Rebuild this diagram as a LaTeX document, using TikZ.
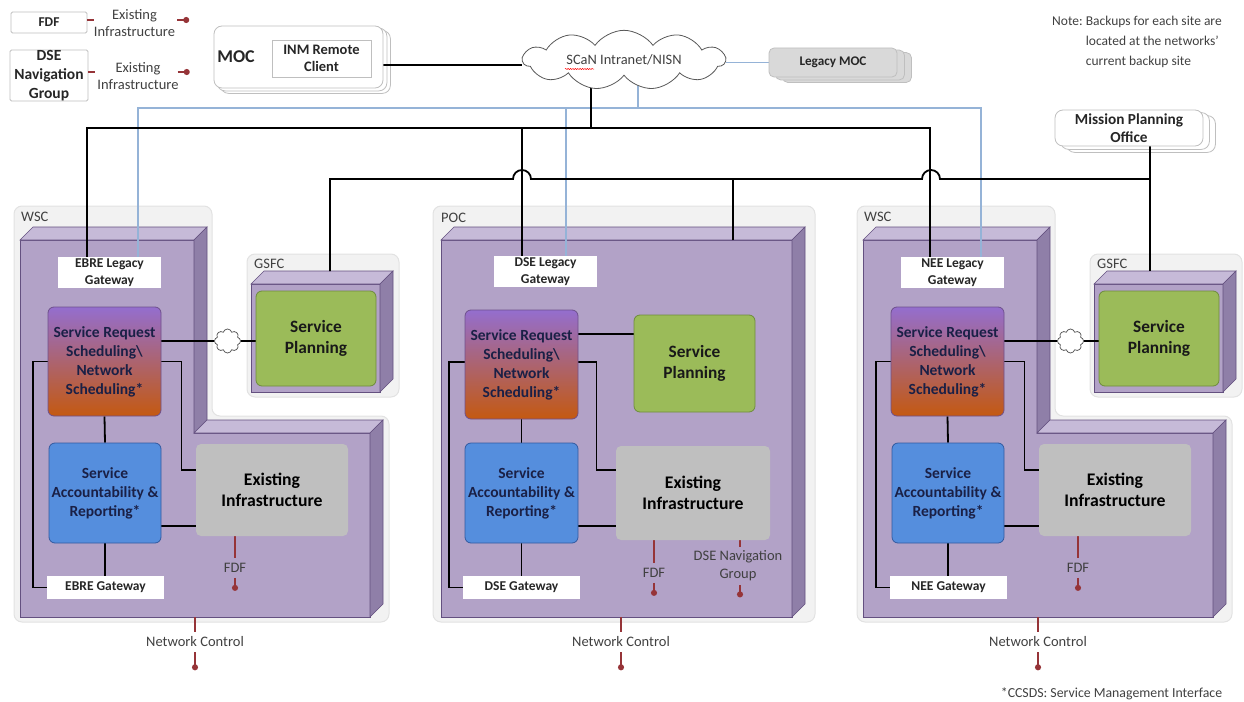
\documentclass[tikz,border=0pt]{standalone}
\usepackage{fontspec}
\setmainfont{Carlito}
\usetikzlibrary{shapes.symbols,arrows.meta,calc,decorations.pathmorphing}
\newcommand{\fsz}[2]{\fontsize{#1}{#2}\selectfont}
\definecolor{dred}{RGB}{150,52,56}
\definecolor{lineblue}{RGB}{149,179,215}
\definecolor{txtgray}{RGB}{64,64,64}
\definecolor{navytxt}{RGB}{26,32,70}
\definecolor{cFront}{RGB}{178,162,199}
\definecolor{cTop}{RGB}{198,186,216}
\definecolor{cSide}{RGB}{143,127,168}
\definecolor{cEdge}{RGB}{100,80,128}
\definecolor{contfill}{RGB}{242,242,242}
\definecolor{contedge}{RGB}{226,226,226}
\definecolor{srstop}{RGB}{148,110,206}
\definecolor{srsbot}{RGB}{196,89,17}
\definecolor{srsedge}{RGB}{110,80,140}
\definecolor{sarfill}{RGB}{85,142,221}
\definecolor{saredge}{RGB}{50,90,160}
\definecolor{spfill}{RGB}{155,187,89}
\definecolor{spedge}{RGB}{110,140,60}
\definecolor{eifill}{RGB}{191,191,191}
\definecolor{boxedge}{RGB}{191,191,191}
\definecolor{lmocfill}{RGB}{217,217,217}
\pgfdeclarelayer{back}
\pgfdeclarelayer{lines}
\pgfsetlayers{back,lines,main}
\tikzset{
  conn/.style={line width=1.8pt, draw=black},
  bconn/.style={line width=1.4pt, draw=lineblue},
  redl/.style={line width=1.8pt, draw=dred},
  reddot/.style={line width=1.8pt, draw=dred, -{Circle[length=6pt,width=6pt]}},
  lbl/.style={font=\fsz{14.5}{17.5}, text=txtgray, inner sep=0pt},
  redlbl/.style={font=\fsz{14.5}{18}, text=txtgray, inner xsep=0pt, inner ysep=5pt, align=center},
  gwbox/.style={fill=white, font=\bfseries\fsz{13.5}{16.5}, text=black!85, align=center, inner sep=0pt},
  srsbox/.style={rounded corners=6pt, draw=srsedge, line width=0.8pt, top color=srstop, bottom color=srsbot, font=\bfseries\fsz{15.5}{19}, text=navytxt, align=center, inner sep=0pt},
  sarbox/.style={rounded corners=6pt, draw=saredge, line width=0.8pt, fill=sarfill, font=\bfseries\fsz{15.5}{19}, text=navytxt, align=center, inner sep=0pt},
  eibox/.style={rounded corners=5pt, fill=eifill, font=\bfseries\fsz{17.7}{21}, text=black, align=center, inner sep=0pt},
  spbox/.style={rounded corners=6pt, draw=spedge, line width=0.8pt, fill=spfill, font=\bfseries\fsz{17.3}{21}, text=black!90, align=center, inner sep=0pt},
  smallcloud/.style={cloud, cloud puffs=8, draw=black!70, fill=white, line width=0.7pt, minimum width=26pt, minimum height=24pt, inner sep=0pt},
  wscont/.style={fill=contfill, draw=contedge, line width=1pt, rounded corners=8pt},
  pf/.style={fill=cFront, draw=cEdge, line width=0.6pt},
  pt/.style={fill=cTop, draw=cEdge, line width=0.6pt},
  ps/.style={fill=cSide, draw=cEdge, line width=0.6pt},
  stackbox/.style={draw=boxedge, fill=white, rounded corners=8pt, line width=0.8pt},
  lmocbox/.style={draw=boxedge, fill=lmocfill, rounded corners=5pt, line width=0.8pt},
  legbox/.style={draw=boxedge, fill=white, rounded corners=1.5pt, line width=0.8pt, align=center, inner sep=0pt, text=black!85},
  legtxt/.style={font=\fsz{14.5}{17.7}, text=txtgray, align=center, inner sep=0pt}
}
\newcommand{\WSCsite}[2]{%
  \begin{pgfonlayer}{back}
    \draw[wscont] (14,206) -- (212,206) -- (212,416) -- (389,416) -- (389,622) -- (14,622) -- cycle;
    \draw[wscont] (247,254) rectangle (399,397);
    \draw[pf] (20,240) -- (194,240) -- (194,433) -- (370,433) -- (370,617) -- (20,617) -- cycle;
    \draw[pt] (20,240) -- (33,227) -- (207,227) -- (194,240) -- cycle;
    \draw[ps] (194,240) -- (207,227) -- (207,420) -- (194,433) -- cycle;
    \draw[pt] (194,433) -- (207,420) -- (383,420) -- (370,433) -- cycle;
    \draw[ps] (370,433) -- (383,420) -- (383,604) -- (370,617) -- cycle;
    \draw[pf] (251,284) rectangle (380,392);
    \draw[pt] (251,284) -- (264,271) -- (393,271) -- (380,284) -- cycle;
    \draw[ps] (380,284) -- (393,271) -- (393,379) -- (380,392) -- cycle;
  \end{pgfonlayer}
  \node[lbl, anchor=west] (#1site) at (21,217) {WSC};
  \node[lbl, anchor=west] (#1gsfc) at (254,264) {GSFC};
  \node[gwbox, minimum width=103pt, minimum height=31pt] (#1lg) at (109.5,272.5) {#2 Legacy\\Gateway};
  \node[srsbox, minimum width=113pt, minimum height=109pt] (#1srs) at (104.5,361.5) {Service Request\\Scheduling\textbackslash\\Network\\Scheduling*};
  \node[sarbox, minimum width=112pt, minimum height=100pt] (#1sar) at (105,493) {Service\\Accountability \&\\Reporting*};
  \node[gwbox, minimum width=117pt, minimum height=23pt] (#1gw) at (105.5,587.5) {#2 Gateway};
  \node[eibox, minimum width=152pt, minimum height=92pt] (#1ei) at (272,490) {Existing\\Infrastructure};
  \node[spbox, minimum width=120pt, minimum height=95pt] (#1sp) at (316,338.5) {Service\\Planning};
  \node[smallcloud] (#1sc) at (227.5,341) {};
  \node[redlbl] (#1fdf) at (235,568) {FDF};
  \node[redlbl] (#1nc) at (195,642) {Network Control};
  \coordinate (#1ncstart) at (195,617);
  \coordinate (#1lgblack) at ($(#1lg.north west)+(29,0)$);
  \coordinate (#1lgblue) at ($(#1lg.north west)+(80,0)$);
  \begin{pgfonlayer}{lines}
    \draw[conn] (#1srs.south) -- (#1sar.north);
    \draw[conn] (#1sar.south) -- (#1sar.south |- #1gw.north);
    \draw[conn] (#1srs.west) -- ++(-15,0) |- (#1gw.west);
    \draw[conn] (#1srs.east) -- ++(20,0) |- ($(#1ei.west)+(0,-20)$);
    \draw[conn] ($(#1sar.east)+(0,33)$) coordinate (#1t1) -- (#1t1 -| #1ei.west);
    \draw[conn] (#1srs.east |- #1sc.west) -- (#1sc.west);
    \draw[conn] (#1sc.east) -- (#1sc.east -| #1sp.west);
    \draw[redl] (#1ei.south -| #1fdf) -- (#1fdf.north);
    \draw[reddot] (#1fdf.south) -- ++(0,13);
    \draw[redl] (#1ncstart) -- (#1nc.north);
    \draw[reddot] (#1nc.south) -- ++(0,18);
  \end{pgfonlayer}
}
\begin{document}
\begin{tikzpicture}[x=1pt,y=-1pt]
\useasboundingbox (0,0) rectangle (1244,701);

% ---------------- legend ----------------
\node[legbox, minimum width=76pt, minimum height=21pt, font=\bfseries\fsz{13.5}{16}] (fdfleg) at (49,22.5) {FDF};
\node[legtxt] (leg1) at (134.5,23) {Existing\\Infrastructure};
\node[legbox, minimum width=78pt, minimum height=51pt, font=\bfseries\fsz{15.5}{19}] (dseleg) at (49,75.5) {DSE\\Navigation\\Group};
\node[legtxt] (leg2) at (138,76) {Existing\\Infrastructure};
\draw[redl] ($(fdfleg.east)+(0,-2.5)$) -- ++(7,0);
\draw[reddot] ($(leg1.east |- fdfleg.east)+(2,-2.5)$) -- ++(12,0);
\draw[redl] ($(dseleg.east)+(0,-3.5)$) -- ++(7,0);
\draw[reddot] ($(leg2.east |- dseleg.east)+(-1,-3.5)$) -- ++(12,0);

% ---------------- MOC ----------------
\node[stackbox, minimum width=169pt, minimum height=62pt] (moc) at (298.5,57) {};
\begin{pgfonlayer}{back}
  \draw[stackbox] ($(moc.south west)+(7,5)$) rectangle ($(moc.north east)+(7,5)$);
  \draw[stackbox] ($(moc.south west)+(3.5,2.5)$) rectangle ($(moc.north east)+(3.5,2.5)$);
\end{pgfonlayer}
\node[font=\bfseries\fsz{18}{20}, text=black!85, inner sep=0pt] (moclbl) at (236,57) {MOC};
\node[draw=boxedge, fill=white, line width=0.8pt, minimum width=99pt, minimum height=37pt, inner sep=0pt, align=center, font=\bfseries\fsz{14.5}{17}, text=black!85] (inm) at (321.5,58.5) {INM Remote\\Client};

% ---------------- SCaN cloud ----------------
\node[cloud, cloud puffs=11, cloud puff arc=110, aspect=4.4, draw=black!65, fill=white, line width=0.8pt, minimum width=202pt, minimum height=46pt, inner sep=0pt, font=\fsz{14.4}{17}, text=txtgray] (cloud) at (624,60) {SCaN Intranet/NISN};
\draw[red, line width=0.5pt, decorate, decoration={snake, amplitude=0.6pt, segment length=2.4pt}] ($(cloud.center)+(-59,9)$) -- ++(29,0);
\coordinate (cloudb) at (591,78);
\coordinate (cloudb2) at (638,79);

% ---------------- Legacy MOC ----------------
\node[lmocbox, minimum width=128pt, minimum height=29pt, font=\bfseries\fsz{13.2}{16}, text=black!85] (lmoc) at (833,62.5) {Legacy MOC};
\begin{pgfonlayer}{back}
  \draw[lmocbox] ($(lmoc.south west)+(14,5)$) rectangle ($(lmoc.north east)+(14,5)$);
  \draw[lmocbox] ($(lmoc.south west)+(7,2.5)$) rectangle ($(lmoc.north east)+(7,2.5)$);
\end{pgfonlayer}

% ---------------- note ----------------
\node[anchor=north west, inner sep=0pt, font=\fsz{13.5}{20}, text=txtgray] (note) at (1052,11)
  {\begin{tabular}{@{}l@{\ }l@{}}Note: & Backups for each site are\\ & located at the networks’\\ & current backup site\end{tabular}};

% ---------------- Mission Planning Office ----------------
\node[stackbox, minimum width=148pt, minimum height=36pt, font=\bfseries\fsz{15.3}{18}, align=center, inner sep=0pt, text=black!85] (mpo) at (1129,128) {Mission Planning\\Office};
\begin{pgfonlayer}{back}
  \draw[stackbox] ($(mpo.south west)+(12,6)$) rectangle ($(mpo.north east)+(12,6)$);
  \draw[stackbox] ($(mpo.south west)+(6,3)$) rectangle ($(mpo.north east)+(6,3)$);
\end{pgfonlayer}

% ---------------- WSC sites ----------------
\begin{scope}
  \WSCsite{L}{EBRE}
\end{scope}
\begin{scope}[xshift=843pt]
  \WSCsite{R}{NEE}
\end{scope}

% ---------------- POC site ----------------
\begin{pgfonlayer}{back}
  \draw[wscont] (433,206) rectangle (815,622);
  \draw[pf] (441,240) rectangle (792,617);
  \draw[pt] (441,240) -- (454,227) -- (805,227) -- (792,240) -- cycle;
  \draw[ps] (792,240) -- (805,227) -- (805,604) -- (792,617) -- cycle;
\end{pgfonlayer}
\node[lbl, anchor=west] (poc) at (441,218) {POC};
\node[gwbox, minimum width=103pt, minimum height=31pt] (Mlg) at (545.5,271.5) {DSE Legacy\\Gateway};
\node[srsbox, minimum width=113pt, minimum height=109pt] (Msrs) at (521.5,364.5) {Service Request\\Scheduling\textbackslash\\Network\\Scheduling*};
\node[spbox, minimum width=121pt, minimum height=97pt] (Msp) at (694.5,363.5) {Service\\Planning};
\node[sarbox, minimum width=113pt, minimum height=100pt] (Msar) at (521.5,493) {Service\\Accountability \&\\Reporting*};
\node[gwbox, minimum width=117pt, minimum height=23pt] (Mgw) at (521.5,587.5) {DSE Gateway};
\node[eibox, minimum width=154pt, minimum height=94pt] (Mei) at (693,493) {Existing\\Infrastructure};
\node[redlbl] (Mfdf) at (654,573) {FDF};
\node[redlbl, inner ysep=4pt] (Mdse) at (738,566) {DSE Navigation\\Group};
\node[redlbl] (Mnc) at (621,642) {Network Control};
\coordinate (Mncstart) at (621,617);
\coordinate (Mlgblack) at ($(Mlg.north west)+(28,0)$);
\coordinate (Mlgblue) at ($(Mlg.north west)+(72,0)$);
\coordinate (Mtop) at (733,240);
\begin{pgfonlayer}{lines}
  \draw[conn] (Msrs.south) -- (Msar.north);
  \draw[conn] (Msar.south) -- (Mgw.north);
  \draw[conn] ($(Msrs.west)+(0,-2.5)$) -- ++(-16,0) |- (Mgw.west);
  \draw[conn] ($(Msrs.east)+(0,-2.5)$) -- ++(18,0) |- ($(Mei.west)+(0,-23)$);
  \draw[conn] ($(Msrs.east)+(0,-30.5)$) coordinate (Mt0) -- (Mt0 -| Msp.west);
  \draw[conn] ($(Msar.east)+(0,33)$) coordinate (Mt1) -- (Mt1 -| Mei.west);
  \draw[redl] (Mei.south -| Mfdf) -- (Mfdf.north);
  \draw[reddot] (Mfdf.south) -- ++(0,13);
  \draw[redl] (Mei.south -| 740,0) -- (Mdse.north -| 740,0);
  \draw[reddot] (Mdse.south -| 740,0) -- ++(0,12);
  \draw[redl] (Mncstart) -- (Mnc.north);
  \draw[reddot] (Mnc.south) -- ++(0,18);
\end{pgfonlayer}

% ---------------- footnote ----------------
\node[inner sep=0pt, font=\fsz{13.8}{16}, text=txtgray] (foot) at (1111.5,694) {*CCSDS: Service Management Interface};

% ---------------- backbone connectors ----------------
\coordinate (bus1) at (591,128);
\coordinate (bus2) at (638,108);
\coordinate (hop1) at (513,179);
\coordinate (hop2) at (922,179);
\coordinate (bus3) at (1150,179);
\coordinate (Lgtop) at (330,271);
\coordinate (Rgtop) at (1150,271);
\begin{pgfonlayer}{lines}
  \draw[conn] ($(inm.east)+(0,6.5)$) coordinate (it) -- (it -| cloud.west);
  \draw[bconn] (lmoc.west -| cloud.east) -- (lmoc.west);
  % blue legacy network
  \draw[bconn] (Llgblue) |- (bus2) -| (Rlgblue);
  \draw[bconn] (cloudb2) -- (bus2);
  \draw[bconn] (Mlgblue) -- (Mlgblue |- bus2);
  % black network
  \draw[conn] (Llgblack) |- (bus1) -| (Rlgblack);
  \draw[conn] (cloudb) -- (bus1);
  \draw[conn] (Mlgblack) -- (Mlgblack |- bus1);
  % planning network with hops
  \draw[conn] (Lgtop) |- (hop1) arc[start angle=180, end angle=0, radius=9pt] -- (hop2) arc[start angle=180, end angle=0, radius=9pt] -- (bus3);
  \draw[conn] (Rgtop |- mpo.south) -- (Rgtop);
  \draw[conn] (Mtop) -- (Mtop |- hop1);
\end{pgfonlayer}
\end{tikzpicture}
\end{document}
